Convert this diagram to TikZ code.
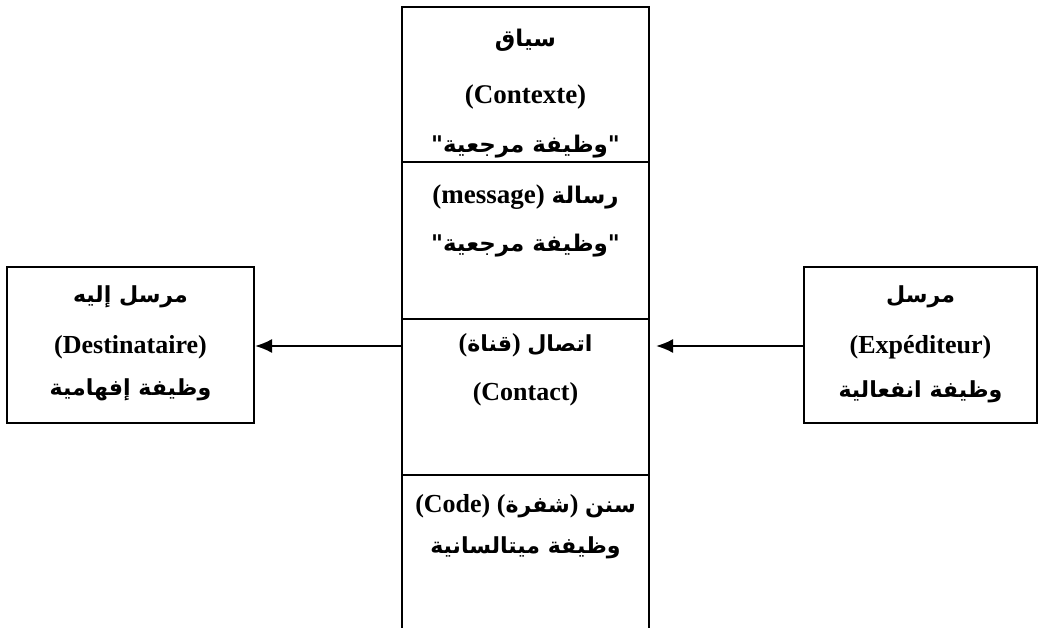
\documentclass[tikz,border=0pt]{standalone}
\usepackage{fontspec}
\setmainfont{Liberation Serif}
\newfontfamily\arfont[Script=Arabic,Scale=0.85]{DejaVu Sans}
\TeXXeTstate=1
\usetikzlibrary{arrows.meta}
\newcommand\arb[1]{{\arfont\bfseries\beginR #1\endR}}
\newcommand\dq{{\arfont\bfseries\char"22}}
\tikzset{
  box/.style={draw, line width=2pt, inner sep=0pt},
  txt/.style={font=\bfseries\fontsize{26}{30}\selectfont, inner sep=0pt},
  big/.style={font=\bfseries\fontsize{27}{32}\selectfont, inner sep=0pt},
  arr/.style={line width=2pt, -{Latex[length=17pt,width=14pt]}},
}
\begin{document}
\begin{tikzpicture}[x=1pt,y=-1pt]
\useasboundingbox (0,0) rectangle (1040,628);
% central column cells
\node[box, minimum width=247pt, minimum height=155pt] (ctx) at (525.5,84.5) {};
\node[box, minimum width=247pt, minimum height=157pt] (msg) at (525.5,240.5) {};
\node[box, minimum width=247pt, minimum height=156pt] (con) at (525.5,397) {};
\coordinate (codeTL) at (402,475);
\coordinate (codeTR) at (649,475);
\coordinate (codeBL) at (402,632);
\coordinate (codeBR) at (649,632);
\draw[line width=2pt] (codeBL) -- (codeTL) -- (codeTR) -- (codeBR);
% side boxes
\node[box, minimum width=247pt, minimum height=156pt] (dest) at (130.5,345) {};
\node[box, minimum width=233pt, minimum height=156pt] (exp) at (920.5,345) {};
% context text
\node[big] (t1) at (525.5,40) {\arb{سياق}};
\node[big] (t2) at (525.5,97) {(Contexte)};
\begin{scope}
\clip (402,7) rectangle (649,161);
\node[big] (t3) at (525.5,147) {\dq\arb{وظيفة مرجعية}\dq};
\end{scope}
% message
\node[big] (m1) at (525.5,197) {(message) \arb{رسالة}};
\node[big] (m2) at (525.5,246) {\dq\arb{وظيفة مرجعية}\dq};
% contact
\node[txt] (c1) at (525.5,345) {(\arb{قناة}) \arb{اتصال}};
\node[txt] (c2) at (525.5,394) {(Contact)};
% code
\node[txt] (k1) at (525.5,506) {(Code) (\arb{شفرة}) \arb{سنن}};
\node[txt] (k2) at (525.5,548) {\arb{وظيفة ميتالسانية}};
% destinataire
\node[txt] (d1) at (130.5,297) {\arb{مرسل إليه}};
\node[txt] (d2) at (130.5,347) {(Destinataire)};
\node[txt] (d3) at (130.5,390) {\arb{وظيفة إفهامية}};
% expediteur
\node[txt] (e1) at (920.5,297) {\arb{مرسل}};
\node[txt] (e2) at (920.5,347) {(Expéditeur)};
\node[txt] (e3) at (920.5,392) {\arb{وظيفة انفعالية}};
% arrows
\coordinate (ain) at (656,346);
\draw[arr] (402,346) -- (dest.east |- 0,346);
\draw[arr] (exp.west |- 0,346) -- (ain);
\end{tikzpicture}
\end{document}
